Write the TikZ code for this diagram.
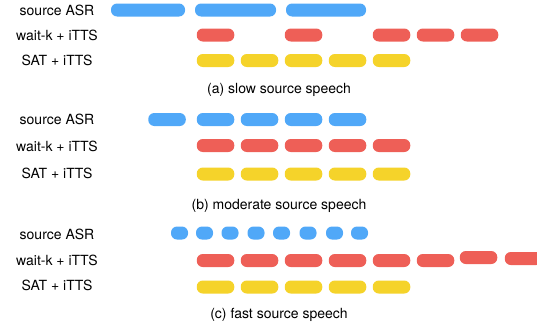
\documentclass[tikz,border=0pt]{standalone}
\usepackage{fontspec}
\setmainfont{TeX Gyre Heros}
\usetikzlibrary{positioning}
\definecolor{asrblue}{HTML}{50A8F8}
\definecolor{waitred}{HTML}{EE5F57}
\definecolor{satyellow}{HTML}{F5D32A}
\tikzset{
    bar/.style = {
        inner sep=0pt,
        minimum height=13pt,
        minimum width=37.5pt,
        rounded corners=6pt,
        },
    asr bar/.style = {
        bar,
        fill = asrblue,
        },
    asr short/.style = {
        bar,
        fill = asrblue,
        minimum width=17pt,
        },
    waitk bar/.style = {
        bar,
        fill = waitred,
        },
    sat bar/.style = {
        bar,
        fill = satyellow,
        },
    row label/.style = {
        font=\fontsize{14}{16}\selectfont,
        inner sep=0pt,
        },
    caption/.style = {
        font=\fontsize{14}{16}\selectfont,
        inner sep=0pt,
        }
}

\begin{document}
\begin{tikzpicture}[x=1pt, y=-1pt]
            \useasboundingbox (0,0) rectangle (537,332);

            % (a) slow source speech
            \node[row label] (la1) at (57,10) {source ASR};
            \node[row label] (la2) at (57,35) {wait-k + iTTS};
            \node[row label] (la3) at (57,60) {SAT + iTTS};

            \node[asr bar, minimum width=74pt] (a1) at (148,10) {};
            \node[asr bar, minimum width=81pt] (a2) at (235.5,10) {};
            \node[asr bar, minimum width=80pt] (a3) at (326,10) {};

            \node[waitk bar] (aw1) at (215.5,35) {};
            \node[waitk bar] (aw2) at (303.5,35) {};
            \node[waitk bar] (aw3) at (391.5,35) {};
            \node[waitk bar] (aw4) at (435.5,35) {};
            \node[waitk bar] (aw5) at (479.5,35) {};

            \node[sat bar] (as1) at (215.5,60.5) {};
            \node[sat bar] (as2) at (259.5,60.5) {};
            \node[sat bar] (as3) at (303.5,60.5) {};
            \node[sat bar] (as4) at (347.5,60.5) {};
            \node[sat bar] (as5) at (391.5,60.5) {};

            \node[caption] (capa) at (279,90) {(a) slow source speech};

            % (b) moderate source speech
            \node[row label] (lb1) at (57,119) {source ASR};
            \node[row label] (lb2) at (57,146) {wait-k + iTTS};
            \node[row label] (lb3) at (57,173) {SAT + iTTS};

            \node[asr bar] (b1) at (167,119.5) {};
            \node[asr bar] (b2) at (215.5,119.5) {};
            \node[asr bar] (b3) at (259.5,119.5) {};
            \node[asr bar] (b4) at (303.5,119.5) {};
            \node[asr bar] (b5) at (347.5,119.5) {};

            \node[waitk bar] (bw1) at (215.5,145.5) {};
            \node[waitk bar] (bw2) at (259.5,145.5) {};
            \node[waitk bar] (bw3) at (303.5,145.5) {};
            \node[waitk bar] (bw4) at (347.5,145.5) {};
            \node[waitk bar] (bw5) at (391.5,145.5) {};

            \node[sat bar] (bs1) at (215.5,174) {};
            \node[sat bar] (bs2) at (259.5,174) {};
            \node[sat bar] (bs3) at (303.5,174) {};
            \node[sat bar] (bs4) at (347.5,174) {};
            \node[sat bar] (bs5) at (391.5,174) {};

            \node[caption] (capb) at (279,206) {(b) moderate source speech};

            % (c) fast source speech
            \node[row label] (lc1) at (57,234) {source ASR};
            \node[row label] (lc2) at (57,260) {wait-k + iTTS};
            \node[row label] (lc3) at (57,285) {SAT + iTTS};

            \node[asr short] (c1) at (179.5,233) {};
            \node[asr short] (c2) at (204.5,233) {};
            \node[asr short] (c3) at (230,233) {};
            \node[asr short] (c4) at (256,233) {};
            \node[asr short] (c5) at (281.5,233) {};
            \node[asr short] (c6) at (308,233) {};
            \node[asr short] (c7) at (334.5,233) {};
            \node[asr short] (c8) at (359.5,233) {};

            \node[waitk bar] (cw1) at (215.5,260.5) {};
            \node[waitk bar] (cw2) at (259.5,260.5) {};
            \node[waitk bar] (cw3) at (303.5,260.5) {};
            \node[waitk bar] (cw4) at (347.5,260.5) {};
            \node[waitk bar] (cw5) at (391.5,260.5) {};
            \node[waitk bar] (cw6) at (435.5,260.5) {};
            \node[waitk bar] (cw7) at (478.5,257.5) {};
            \node[waitk bar] (cw8) at (523.5,258.5) {};

            \node[sat bar] (cs1) at (215.5,287) {};
            \node[sat bar] (cs2) at (259.5,287) {};
            \node[sat bar] (cs3) at (303.5,287) {};
            \node[sat bar] (cs4) at (347.5,287) {};
            \node[sat bar] (cs5) at (391.5,287) {};

            \node[caption] (capc) at (279,315) {(c) fast source speech};
        \end{tikzpicture}
\end{document}
